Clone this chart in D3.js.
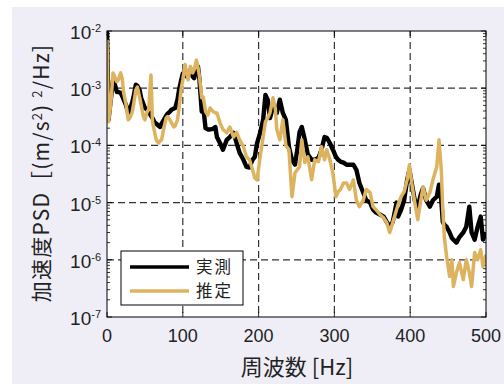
<!DOCTYPE html>
<html><head><meta charset="utf-8">
<script src="https://cdn.jsdelivr.net/npm/d3@7/dist/d3.min.js"></script>
<style>body{margin:0;background:#fff;overflow:hidden}</style>
</head><body>
<svg id="c" width="504" height="384"></svg>
<script>
// Frequency [Hz]
const freq=[0,2,5,8,10,13,15,18,20,22,25,28,30,33,35,38,40,43,45,48,50,53,55,58,60,63,65,68,70,72,75,78,80,83,85,88,90,93,95,98,100,103,105,107,110,113,115,118,120,122,125,127,130,133,136,140,143,145,149,153,158,162,167,171,175,180,184,188,192,195,198,202,206,209,212,215,219,222,224,228,232,236,240,244,248,251,254,257,261,265,270,274,279,283,287,290,294,298,302,305,308,312,316,320,325,329,333,338,342,347,351,355,360,365,369,373,377,382,384,388,392,396,399,402,406,410,414,417,421,426,430,435,438,441,443,445,448,452,455,457,461,465,470,474,478,481,485,489,493,496,500];
// 実測 (measured) PSD
const measured=[1.0e-2,2.8e-4,6.3e-4,1.4e-3,1.2e-3,8.6e-4,8.6e-4,8.3e-4,7.3e-4,6.3e-4,5.1e-4,3.7e-4,4.2e-4,5.5e-4,7.0e-4,1.15e-3,1.1e-3,9.3e-4,6.8e-4,5.3e-4,4.5e-4,4.2e-4,3.9e-4,3.3e-4,3.0e-4,2.5e-4,2.4e-4,2.2e-4,2.1e-4,2.4e-4,2.8e-4,3.3e-4,3.6e-4,3.9e-4,4.2e-4,4.4e-4,4.5e-4,6.3e-4,9.3e-4,1.4e-3,1.8e-3,1.7e-3,1.6e-3,1.8e-3,2.1e-3,1.6e-3,1.5e-3,2.3e-3,2.4e-3,1.4e-3,3.9e-4,4.7e-4,2.0e-4,1.9e-4,1.9e-4,1.95e-4,2.1e-4,1.4e-4,1.1e-4,8.4e-5,1.25e-4,1.4e-4,1.66e-4,1.1e-4,7.4e-5,5.6e-5,
4.2e-5,4.1e-5,5.6e-5,6.3e-5,1.1e-4,1.66e-4,2.8e-4,7.6e-4,6.3e-4,3.0e-4,4.7e-4,4.2e-4,3.7e-4,6.3e-4,3.7e-4,2.8e-4,9.5e-5,5.6e-5,4.6e-5,8.4e-5,1.7e-4,2.1e-4,1.25e-4,6.9e-5,5.6e-5,5.6e-5,6.1e-5,8.4e-5,1.4e-4,1.36e-4,1.1e-4,8.4e-5,6.3e-5,5.6e-5,5.2e-5,5.0e-5,
4.6e-5,4.6e-5,4.6e-5,3.75e-5,2.2e-5,1.5e-5,1.1e-5,1.0e-5,7.5e-6,6.7e-6,6.2e-6,5.7e-6,4.6e-6,3.8e-6,4.6e-6,1.0e-5,5.7e-6,7.5e-6,1.1e-5,2.5e-5,3.75e-5,2.2e-5,1.1e-5,8.5e-6,1.4e-5,1.8e-5,1.1e-5,8.5e-6,1.1e-5,1.27e-5,2.05e-5,1.1e-5,4.6e-6,4.1e-6,3.8e-6,3.0e-6,2.4e-6,2.25e-6,2.0e-6,2.5e-6,3.0e-6,3.8e-6,8.5e-6,3.0e-6,2.25e-6,3.8e-6,5.7e-6,2.25e-6,3.0e-6];
// 推定 (estimated) PSD
const estimated=[7.0e-3,2.6e-4,5.3e-4,1.85e-3,1.6e-3,1.3e-3,1.4e-3,1.85e-3,1.5e-3,8.3e-4,5.3e-4,2.8e-4,3.0e-4,3.7e-4,5.1e-4,9.3e-4,1.05e-3,7.0e-4,5.1e-4,3.2e-4,2.8e-4,3.9e-4,4.2e-4,1.7e-3,2.6e-4,1.66e-4,1.25e-4,1.1e-4,1.2e-4,1.25e-4,2.0e-4,3.0e-4,3.2e-4,2.8e-4,2.5e-4,2.1e-4,2.2e-4,2.8e-4,4.5e-4,1.0e-3,1.4e-3,2.6e-3,1.9e-3,1.4e-3,2.4e-3,1.85e-3,2.1e-3,3.1e-3,2.3e-3,1.6e-3,6.8e-4,7.0e-4,3.9e-4,3.4e-4,4.5e-4,3.9e-4,3.7e-4,3.7e-4,2.5e-4,1.9e-4,1.66e-4,2.1e-4,1.4e-4,1.7e-4,1.25e-4,9.5e-5,
6.3e-5,5.6e-5,3.75e-5,2.7e-5,2.5e-5,6.3e-5,1.4e-4,2.6e-4,3.0e-4,3.7e-4,6.8e-4,4.5e-4,1.9e-4,1.25e-4,2.8e-4,1.0e-4,8.4e-5,1.27e-5,3.3e-5,3.75e-5,4.2e-5,1.25e-4,5.0e-5,6.3e-5,2.5e-5,5.6e-5,5.2e-5,9.5e-5,5.6e-5,8.4e-5,5.6e-5,3.3e-5,1.27e-5,1.55e-5,1.7e-5,2.2e-5,
2.2e-5,1.7e-5,2.5e-5,1.1e-5,8.5e-6,1.1e-5,1.7e-5,1.5e-5,8.5e-6,7.5e-6,6.2e-6,5.4e-6,4.5e-6,3.0e-6,4.5e-6,7.5e-6,9.2e-6,1.27e-5,1.55e-5,2.5e-5,4.6e-5,2.2e-5,1.0e-5,5.0e-6,1.1e-5,1.9e-5,1.1e-5,1.5e-5,2.5e-5,4.2e-5,1.25e-4,3.75e-5,7.5e-6,2.5e-6,1.14e-6,5.1e-7,1.0e-6,3.4e-7,6.0e-7,8.9e-7,4.5e-7,1.0e-6,6.0e-7,3.4e-7,1.34e-6,1.0e-6,1.5e-6,7.6e-7,1.23e-6];
const xTicks=[0,100,200,300,400,500];
const yExponents=[-2,-3,-4,-5,-6,-7];
const seriesNames=["実測","推定"];
const colors=["#000000","#DDB360"];

const svg=d3.select("#c");
const L=107,R=486,T=31,B=317;
svg.append("rect").attr("x",12).attr("y",7).attr("width",492).attr("height",377).attr("fill","#EFEEF7");
svg.append("rect").attr("x",L).attr("y",T).attr("width",R-L).attr("height",B-T).attr("fill","#fff");

const x=d3.scaleLinear().domain([0,500]).range([L,R]);
const y=d3.scaleLog().domain([1e-7,1e-2]).range([B,T]);

const grid=svg.append("g").attr("stroke","#333").attr("stroke-width",1.2).attr("stroke-dasharray","7,4");
grid.selectAll("line.v").data(xTicks.slice(1,-1)).enter().append("line")
  .attr("x1",d=>x(d)).attr("x2",d=>x(d)).attr("y1",T).attr("y2",B);
grid.selectAll("line.h").data(yExponents.slice(1,-1)).enter().append("line")
  .attr("x1",L).attr("x2",R).attr("y1",d=>y(Math.pow(10,d))).attr("y2",d=>y(Math.pow(10,d)));

// minor and major ticks (inside)
const tk=svg.append("g").attr("stroke","#000").attr("stroke-width",0.8);
y.ticks().forEach(v=>{
  const major=Math.abs(Math.log10(v)-Math.round(Math.log10(v)))<1e-6;
  const len=major?5:3;
  tk.append("line").attr("x1",L).attr("x2",L+len).attr("y1",y(v)).attr("y2",y(v));
  tk.append("line").attr("x1",R).attr("x2",R-len).attr("y1",y(v)).attr("y2",y(v));
});
xTicks.forEach(v=>{
  tk.append("line").attr("x1",x(v)).attr("x2",x(v)).attr("y1",B).attr("y2",B-5);
  tk.append("line").attr("x1",x(v)).attr("x2",x(v)).attr("y1",T).attr("y2",T+5);
});

// lines
svg.append("clipPath").attr("id","pc").append("rect").attr("x",L).attr("y",T-3).attr("width",R-L).attr("height",B-T+3);
const line=d3.line().x((d,i)=>x(freq[i])).y(d=>y(d)).curve(d3.curveLinear);
const pg=svg.append("g").attr("clip-path","url(#pc)");
[measured,estimated].forEach((s,k)=>{
  pg.append("path").datum(s).attr("d",line).attr("fill","none")
    .attr("stroke",colors[k]).attr("stroke-width",k===0?4.4:3.5).attr("stroke-linejoin","round");
});

svg.append("rect").attr("x",L).attr("y",T).attr("width",R-L).attr("height",B-T)
  .attr("fill","none").attr("stroke","#000").attr("stroke-width",1);

// y tick labels
const ff="'Liberation Sans', Arial, sans-serif";
yExponents.forEach(e=>{
  const t=svg.append("text").attr("x",101).attr("y",y(Math.pow(10,e))+8).attr("text-anchor","end")
    .attr("font-family",ff).attr("font-size",19).attr("fill","#222");
  t.append("tspan").text("10");
  t.append("tspan").attr("dy",-7).attr("font-size",11).text(String(e));
});
// x tick labels
xTicks.forEach(v=>{
  svg.append("text").attr("x",x(v)).attr("y",342).attr("text-anchor","middle")
    .attr("font-family",ff).attr("font-size",18).attr("fill","#222").text(v);
});
const jf="'Noto Sans CJK JP', 'Noto Sans', sans-serif";
svg.append("text").attr("x",297).attr("y",375).attr("text-anchor","middle")
  .attr("font-family",jf).attr("font-size",22).attr("fill","#222").text("周波数 [Hz]");

const yl=svg.append("text").attr("transform","translate(49,173) rotate(-90)").attr("text-anchor","middle")
  .attr("font-family",jf).attr("font-size",21).attr("letter-spacing",1.2).attr("fill","#222");
yl.append("tspan").text("加速度PSD［(m/s");
yl.append("tspan").attr("font-size",13).attr("dy",-7).text("2");
yl.append("tspan").attr("dy",7).text(") ");
yl.append("tspan").attr("font-size",13).attr("dy",-7).text("2");
yl.append("tspan").attr("dy",7).text("/Hz]");

// legend
const lg=svg.append("g");
lg.append("rect").attr("x",121).attr("y",251).attr("width",122).attr("height",54).attr("fill","#fff").attr("stroke","#000").attr("stroke-width",1);
seriesNames.forEach((n,i)=>{
  const yy=267+i*24;
  lg.append("line").attr("x1",130).attr("x2",189).attr("y1",yy).attr("y2",yy).attr("stroke",colors[i]).attr("stroke-width",3.6);
  lg.append("text").attr("x",196).attr("y",yy+6).attr("font-family",jf).attr("font-size",16.5)
    .attr("letter-spacing",2).attr("fill","#222").text(n);
});
</script>
</body></html>
